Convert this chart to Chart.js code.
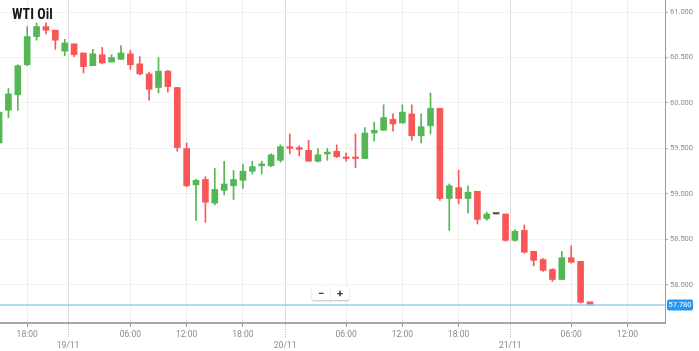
<!DOCTYPE html>
<html>
<head>
<meta charset="utf-8">
<script src="https://cdn.jsdelivr.net/npm/chart.js@4.4.1/dist/chart.umd.min.js"></script>
<style>
  html, body { margin: 0; padding: 0; background: #fff; }
  #wrap { position: relative; width: 699px; height: 351px; }
  #title {
    position: absolute; left: 12px; top: 6px;
    font: bold 14px 'Roboto Condensed', 'Liberation Sans Narrow', Roboto, sans-serif;
    color: #1a1a1a;
  }
  #zoom {
    position: absolute; left: 312px; top: 287px; width: 37px; height: 13px;
    background: #fff; border-radius: 2px; box-shadow: 0 1px 2px rgba(0,0,0,0.25);
    display: flex; font: bold 11px Roboto, sans-serif; color: #333;
  }
  #zoom span { flex: 1; text-align: center; line-height: 13px; }
  #zoom span + span { border-left: 1px solid #eee; }
</style>
</head>
<body>
<div id="wrap">
  <canvas id="chart" width="699" height="351"></canvas>
  <div id="title">WTI Oil</div>
  <div id="zoom"><span>&minus;</span><span>+</span></div>
</div>
<script>
// hourly candles, left to right
const opens  = [59.56, 59.92, 60.09, 60.42, 60.73, 60.84, 60.80, 60.57, 60.65, 60.55,
                60.41, 60.53, 60.45, 60.48, 60.54, 60.43, 60.32, 60.17, 60.35, 60.17,
                59.50, 59.10, 59.16, 58.90, 59.04, 59.09, 59.15, 59.25, 59.31, 59.31,
                59.37, 59.52, 59.51, 59.48, 59.36, 59.44, 59.47, 59.40, 59.395, 59.39,
                59.67, 59.70, 59.82, 59.78, 59.88, 59.64, 59.75, 59.94, 58.95, 59.07,
                58.95, 59.03, 58.73, 58.78, 58.78, 58.49, 58.60, 58.37, 58.28, 58.17,
                58.06, 58.30, 58.26, 57.815];
const highs  = [59.91, 60.16, 60.42, 60.84, 60.88, 60.88, 60.80, 60.70, 60.65, 60.55,
                60.59, 60.61, 60.53, 60.63, 60.58, 60.51, 60.34, 60.50, 60.36, 60.17,
                59.56, 59.16, 59.19, 59.28, 59.36, 59.26, 59.33, 59.36, 59.36, 59.44,
                59.54, 59.66, 59.53, 59.59, 59.50, 59.50, 59.54, 59.45, 59.66, 59.73,
                59.79, 59.98, 59.88, 59.98, 59.98, 59.88, 60.11, 59.945, 59.11, 59.26,
                59.09, 59.03, 58.80, 58.78, 58.78, 58.61, 58.66, 58.37, 58.29, 58.18,
                58.37, 58.43, 58.26, 57.815];
const lows   = [59.55, 59.84, 59.92, 60.41, 60.69, 60.76, 60.59, 60.52, 60.51, 60.33,
                60.41, 60.43, 60.45, 60.48, 60.37, 60.31, 60.03, 60.11, 60.12, 59.47,
                59.08, 58.71, 58.69, 58.88, 58.99, 58.94, 59.06, 59.22, 59.22, 59.30,
                59.35, 59.44, 59.42, 59.36, 59.35, 59.37, 59.40, 59.36, 59.29, 59.39,
                59.58, 59.70, 59.69, 59.78, 59.59, 59.56, 59.66, 58.93, 58.60, 58.89,
                58.79, 58.67, 58.71, 58.78, 58.48, 58.48, 58.35, 58.21, 58.15, 58.04,
                58.06, 58.24, 57.80, 57.78];
const closes = [59.90, 60.10, 60.41, 60.73, 60.84, 60.80, 60.69, 60.66, 60.53, 60.40,
                60.54, 60.44, 60.50, 60.55, 60.42, 60.32, 60.15, 60.35, 60.18, 59.51,
                59.09, 59.15, 58.91, 59.05, 59.11, 59.16, 59.25, 59.30, 59.33, 59.43,
                59.52, 59.50, 59.49, 59.36, 59.43, 59.46, 59.41, 59.39, 59.39, 59.67,
                59.70, 59.84, 59.77, 59.90, 59.64, 59.74, 59.94, 58.95, 59.09, 58.95,
                59.02, 58.72, 58.78, 58.78, 58.49, 58.59, 58.36, 58.27, 58.16, 58.06,
                58.30, 58.25, 57.81, 57.78];

const xTickAt = [3, 7.35, 14, 20, 26, 30.5, 37, 43, 49, 54.5, 61, 67];
const xTickLabels = ['18:00', ['', '19/11'], '06:00', '12:00', '18:00', ['', '20/11'],
                     '06:00', '12:00', '18:00', ['', '21/11'], '06:00', '12:00'];
const yTicks = [58, 58.5, 59, 59.5, 60, 60.5, 61];
const lastPrice = 57.78;

const UP = '#55b655', DOWN = '#f95757', FLAT = '#555555';
const candleColor = (i) => closes[i] > opens[i] ? UP : (closes[i] < opens[i] ? DOWN : FLAT);
const isDate = (i) => Array.isArray(xTickLabels[i]);

const priceLine = {
  id: 'priceLine',
  afterDatasetsDraw(chart) {
    const { ctx, chartArea, scales } = chart;
    const y = scales.y.getPixelForValue(lastPrice);
    ctx.save();
    ctx.strokeStyle = '#92cef3';
    ctx.lineWidth = 1.5;
    ctx.beginPath();
    ctx.moveTo(chartArea.left, y);
    ctx.lineTo(chartArea.right, y);
    ctx.stroke();
    ctx.restore();
  },
  afterDraw(chart) {
    const { ctx, chartArea, scales } = chart;
    const y = scales.y.getPixelForValue(lastPrice);
    ctx.save();
    // price tag
    ctx.fillStyle = '#2196f3';
    ctx.beginPath();
    ctx.roundRect(chartArea.right + 2, y - 5.5, 26, 11, 2);
    ctx.fill();
    ctx.fillStyle = '#fff';
    ctx.font = '7.5px Roboto';
    ctx.textAlign = 'center';
    ctx.textBaseline = 'middle';
    ctx.fillText(lastPrice.toFixed(3), chartArea.right + 15, y + 0.5);
    // dotted day ticks
    ctx.strokeStyle = '#b5b5b5';
    ctx.lineWidth = 1;
    ctx.setLineDash([1, 1.5]);
    xTickAt.forEach((v, i) => {
      if (!isDate(i)) return;
      const x = Math.round(scales.x.getPixelForValue(v)) + 0.5;
      ctx.beginPath();
      ctx.moveTo(x, chartArea.bottom + 1);
      ctx.lineTo(x, chartArea.bottom + 15);
      ctx.stroke();
    });
    ctx.restore();
  }
};

new Chart(document.getElementById('chart'), {
  type: 'bar',
  data: {
    datasets: [
      {
        label: 'body',
        data: opens.map((o, i) => ({ x: i, y: [Math.min(o, closes[i]), Math.max(o, closes[i])] })),
        backgroundColor: (c) => candleColor(c.dataIndex),
        barThickness: 6,
        minBarLength: 1.5,
        grouped: false,
        order: 1
      },
      {
        label: 'wick',
        data: lows.map((l, i) => ({ x: i, y: [l, highs[i]] })),
        backgroundColor: (c) => candleColor(c.dataIndex),
        barThickness: 1,
        grouped: false,
        order: 2
      }
    ]
  },
  options: {
    responsive: false,
    animation: false,
    layout: { padding: 0 },
    plugins: { legend: { display: false }, tooltip: { enabled: false } },
    scales: {
      x: {
        type: 'linear',
        min: 0.1,
        max: 71,
        offset: false,
        afterBuildTicks: (s) => { s.ticks = xTickAt.map((v) => ({ value: v })); },
        afterFit: (s) => { s.height = 28; s.paddingLeft = 0; s.paddingRight = 0; },
        ticks: {
          autoSkip: false,
          maxRotation: 0,
          padding: 3,
          color: '#8a8a8a',
          font: { family: 'Roboto', size: 8.5, lineHeight: 1.25 },
          callback: (v, i) => xTickLabels[i]
        },
        grid: {
          offset: false,
          color: (c) => isDate(c.index) ? '#dcdcdc' : '#eeeeee',
          tickColor: (c) => isDate(c.index) ? 'rgba(0,0,0,0)' : '#999',
          tickLength: 4
        },
        border: { color: '#a8a8a8', width: 2 }
      },
      y: {
        position: 'right',
        min: 57.582,
        max: 61.132,
        afterBuildTicks: (s) => { s.ticks = yTicks.map((v) => ({ value: v })); },
        afterFit: (s) => { s.width = 34; s.paddingTop = 0; s.paddingBottom = 0; },
        ticks: {
          padding: 2,
          color: '#8a8a8a',
          font: { family: 'Roboto', size: 7.5 },
          callback: (v) => v.toFixed(3)
        },
        grid: { color: '#f2f2f2', tickColor: '#aaa', tickLength: 3 },
        border: { color: '#9a9a9a', width: 1 }
      }
    }
  },
  plugins: [priceLine]
});
</script>
</body>
</html>
